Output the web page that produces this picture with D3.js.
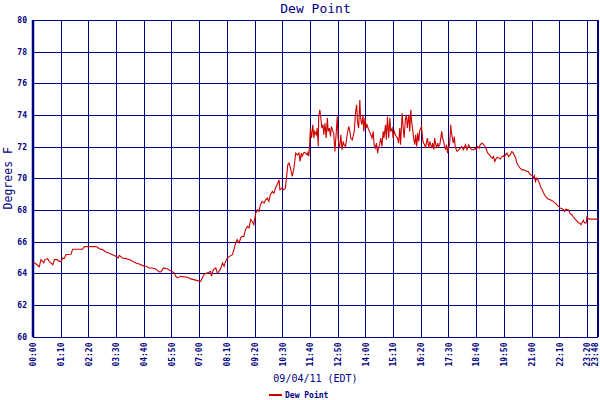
<!DOCTYPE html>
<html>
<head>
<meta charset="utf-8">
<script src="https://cdn.jsdelivr.net/npm/d3@7"></script>
<style>
body { margin: 0; background: #fff; }
text { font-family: "DejaVu Sans Mono", monospace; fill: #000080; }
</style>
</head>
<body>
<svg id="chart" width="600" height="400"></svg>
<script>
// Tick labels along the time axis
const xTickLabels = ["00:00", "01:10", "02:20", "03:30", "04:40", "05:50", "07:00", "08:10",
    "09:20", "10:30", "11:40", "12:50", "14:00", "15:10", "16:20", "17:30", "18:40", "19:50",
    "21:00", "22:10", "23:20", "23:48"];
const yTickValues = [60, 62, 64, 66, 68, 70, 72, 74, 76, 78, 80];

// Readings: minutes after midnight, dew point in degrees F
const minutes = [
    0, 8, 14, 16, 20, 24, 27, 30, 37, 41, 45, 50, 54, 61, 66, 71, 75, 79, 83, 96,
    100, 125, 130, 159, 163, 167, 176, 184, 193, 201, 209, 215, 218, 226, 235, 243, 252, 260, 268, 277,
    285, 294, 302, 310, 319, 323, 330, 340, 348, 357, 361, 365, 373, 390, 399, 416, 424, 432, 434, 441,
    449, 451, 456, 462, 466, 470, 474, 479, 483, 487, 491, 495, 504, 508, 512, 516, 521, 525, 529, 533,
    537, 542, 546, 550, 554, 558, 563, 567, 571, 575, 579, 584, 588, 592, 596, 600, 605, 609, 613, 617,
    622, 624, 630, 634, 638, 641, 644, 647, 651, 655, 659, 664, 668, 672, 675, 678, 680, 685, 689, 693,
    695, 697, 699, 701, 704, 707, 710, 712, 716, 718, 721, 722, 725, 728, 730, 733, 735, 738, 741, 744,
    746, 749, 752, 754, 758, 760, 763, 766, 769, 771, 773, 775, 778, 781, 784, 786, 790, 794, 798, 801,
    803, 807, 809, 812, 815, 818, 820, 823, 826, 828, 831, 834, 836, 839, 842, 844, 847, 850, 854, 857,
    860, 862, 865, 868, 871, 874, 876, 879, 882, 885, 887, 891, 893, 896, 899, 902, 904, 908, 910, 913,
    916, 918, 921, 924, 927, 929, 933, 935, 938, 941, 944, 946, 950, 952, 955, 957, 960, 962, 965, 967,
    970, 972, 975, 977, 980, 982, 985, 987, 990, 992, 995, 997, 1000, 1003, 1005, 1008, 1010, 1013, 1015, 1018,
    1020, 1023, 1025, 1028, 1030, 1033, 1035, 1038, 1040, 1043, 1045, 1048, 1050, 1053, 1056, 1057, 1060, 1062, 1065, 1067,
    1070, 1072, 1076, 1080, 1084, 1088, 1093, 1097, 1101, 1105, 1109, 1114, 1118, 1120, 1124, 1128, 1130, 1135, 1139, 1143,
    1146, 1149, 1154, 1157, 1161, 1164, 1167, 1171, 1174, 1177, 1181, 1185, 1189, 1192, 1194, 1198, 1202, 1206, 1210, 1213,
    1216, 1220, 1223, 1227, 1231, 1236, 1240, 1244, 1248, 1252, 1255, 1258, 1262, 1265, 1267, 1270, 1273, 1276, 1280, 1283,
    1287, 1290, 1294, 1299, 1303, 1307, 1311, 1315, 1320, 1324, 1328, 1332, 1336, 1341, 1343, 1347, 1349, 1353, 1357, 1362,
    1366, 1370, 1374, 1378, 1383, 1385, 1388, 1391, 1394, 1398, 1400, 1402, 1406, 1428
];
const dewPoint = [
    64.69, 64.58, 64.44, 64.40, 64.86, 64.75, 64.65, 64.86, 64.92, 64.75, 64.65, 64.54, 64.86, 64.86, 64.75, 64.75, 64.96, 64.92, 65.17, 65.20,
    65.51, 65.51, 65.68, 65.68, 65.64, 65.55, 65.49, 65.34, 65.26, 65.17, 65.07, 64.96, 65.13, 64.96, 64.92, 64.86, 64.75, 64.65, 64.58, 64.48,
    64.44, 64.33, 64.33, 64.27, 64.08, 64.08, 64.33, 64.27, 64.16, 64.02, 63.80, 63.70, 63.80, 63.74, 63.64, 63.53, 63.49, 63.91, 63.95, 64.02,
    64.12, 63.81, 64.23, 64.33, 64.02, 64.12, 64.27, 64.65, 64.44, 64.75, 64.96, 65.03, 65.17, 65.49, 65.91, 66.12, 65.91, 66.23, 66.33, 66.33,
    66.75, 66.96, 66.86, 67.38, 67.28, 67.07, 67.80, 68.01, 67.91, 68.33, 68.54, 68.43, 68.64, 68.75, 68.54, 68.96, 69.17, 69.06, 69.38, 69.59,
    69.90, 69.27, 69.38, 69.27, 69.38, 70.12, 70.85, 70.96, 70.64, 70.12, 70.54, 71.59, 71.48, 71.59, 71.06, 71.59, 71.38, 71.63, 71.59, 71.48,
    71.63, 71.40, 72.01, 73.17, 72.54, 73.38, 72.54, 72.96, 72.75, 73.17, 72.01, 73.90, 74.32, 73.69, 73.17, 73.38, 72.75, 73.48, 72.54, 73.80,
    72.96, 73.17, 72.64, 73.27, 72.96, 72.85, 71.70, 72.75, 73.90, 72.54, 72.12, 71.91, 72.75, 71.80, 72.33, 72.12, 72.01, 72.75, 73.27, 72.96,
    72.54, 72.43, 72.64, 72.96, 74.11, 74.64, 73.59, 73.17, 74.95, 73.80, 73.38, 74.01, 72.96, 73.80, 73.17, 73.38, 73.17, 72.96, 72.75, 72.54,
    72.96, 72.12, 71.91, 72.22, 71.59, 72.01, 72.12, 72.54, 72.01, 72.96, 72.54, 73.38, 72.43, 73.90, 72.54, 73.80, 72.96, 73.17, 72.54, 72.96,
    72.75, 72.64, 72.54, 72.22, 73.17, 72.12, 74.11, 73.38, 72.54, 73.69, 74.01, 73.17, 74.01, 72.96, 74.32, 73.59, 72.96, 72.54, 72.12, 72.75,
    72.01, 72.85, 72.33, 72.96, 73.17, 73.27, 72.43, 72.22, 72.12, 71.91, 72.33, 72.54, 71.91, 72.33, 72.12, 71.91, 72.22, 71.80, 72.54, 72.12,
    71.91, 72.22, 72.01, 72.12, 72.43, 72.96, 72.54, 72.33, 72.01, 71.80, 72.12, 71.59, 71.91, 72.12, 73.38, 72.96, 72.54, 72.22, 72.64, 72.01,
    71.80, 71.70, 71.80, 71.91, 72.01, 71.80, 72.12, 71.80, 72.12, 71.91, 71.80, 71.80, 71.90, 71.80, 72.01, 71.90, 72.11, 72.22, 72.11, 72.01,
    71.80, 71.60, 71.48, 71.37, 71.27, 71.37, 71.06, 71.27, 71.33, 71.27, 71.21, 71.37, 71.42, 71.33, 71.48, 71.59, 71.37, 71.48, 71.69, 71.63,
    71.48, 71.27, 70.95, 70.79, 70.64, 70.53, 70.53, 70.49, 70.43, 70.43, 70.28, 70.22, 70.16, 70.01, 70.16, 69.80, 70.01, 69.90, 69.69, 69.44,
    69.27, 69.10, 68.89, 68.75, 68.68, 68.64, 68.60, 68.54, 68.43, 68.33, 68.22, 68.12, 68.09, 68.01, 67.90, 68.05, 68.01, 68.01, 67.80, 67.69,
    67.55, 67.42, 67.32, 67.21, 67.13, 67.06, 67.21, 67.34, 67.17, 67.17, 67.55, 67.48, 67.42, 67.42
];

const seriesName = "Dew Point";
const xAxisTitle = "09/04/11 (EDT)";
const yAxisTitle = "Degrees F";

const navy = "#000080";
const lineRed = "#cc0000";

const svg = d3.select("#chart");

const toMinutes = s => {
    const [h, m] = s.split(":").map(Number);
    return h * 60 + m;
};
const tickMinutes = xTickLabels.map(toMinutes);

const x = d3.scaleLinear().domain([0, d3.max(tickMinutes)]).range([33, 598]);
const y = d3.scaleLinear().domain([60, 80]).range([336.5, 20]);

const plotW = x.range()[1] - x.range()[0];
const plotH = y.range()[0] - y.range()[1];

// horizontal grid + y tick labels
const gy = svg.append("g")
    .attr("transform", `translate(${x.range()[0]},0)`)
    .call(d3.axisLeft(y).tickValues(yTickValues).tickSize(-plotW).tickPadding(6).tickFormat(d3.format("d")));
gy.select(".domain").remove();
gy.selectAll("line").attr("stroke", navy).attr("shape-rendering", "crispEdges");
gy.selectAll("text")
    .attr("x", -6)
    .attr("fill", navy)
    .style("font-size", "8px")
    .style("font-weight", "bold");

// vertical grid + rotated time labels
const gx = svg.append("g")
    .attr("transform", `translate(0,${y.range()[0]})`)
    .call(d3.axisBottom(x).tickValues(tickMinutes).tickSize(-plotH).tickFormat((d, i) => xTickLabels[i]));
gx.select(".domain").remove();
gx.selectAll("line").attr("stroke", navy).attr("shape-rendering", "crispEdges");
gx.selectAll("text")
    .attr("transform", "rotate(-90)")
    .attr("x", -6)
    .attr("y", (d, i) => i === xTickLabels.length - 1 ? -3 : 0)
    .attr("dy", "0.35em")
    .attr("text-anchor", "end")
    .attr("fill", navy)
    .style("font-size", "8px")
    .style("font-weight", "bold");

// heavier left and right frame
svg.append("line")
    .attr("x1", x.range()[0]).attr("x2", x.range()[0])
    .attr("y1", y.range()[1]).attr("y2", y.range()[0] + 0.5)
    .attr("stroke", navy).attr("stroke-width", 2.5);
svg.append("line")
    .attr("x1", x.range()[1]).attr("x2", x.range()[1])
    .attr("y1", y.range()[1]).attr("y2", y.range()[0] + 0.5)
    .attr("stroke", navy).attr("stroke-width", 2);

// dew point line
const line = d3.line()
    .x((d, i) => x(minutes[i]))
    .y(d => y(d));

svg.append("path")
    .datum(dewPoint)
    .attr("d", line)
    .attr("fill", "none")
    .attr("stroke", lineRed)
    .attr("stroke-width", 1.1);

// titles
svg.append("text")
    .attr("x", (x.range()[0] + x.range()[1]) / 2)
    .attr("y", 13)
    .attr("text-anchor", "middle")
    .style("font-size", "13px")
    .text(seriesName);

svg.append("text")
    .attr("x", (x.range()[0] + x.range()[1]) / 2)
    .attr("y", 382)
    .attr("text-anchor", "middle")
    .style("font-size", "10px")
    .text(xAxisTitle);

svg.append("text")
    .attr("transform", `translate(12,${(y.range()[0] + y.range()[1]) / 2}) rotate(-90)`)
    .attr("text-anchor", "middle")
    .style("font-size", "11.5px")
    .text(yAxisTitle);

// legend
const legend = svg.append("g").attr("transform", "translate(269,395)");
legend.append("line")
    .attr("x1", 0).attr("x2", 13)
    .attr("stroke", lineRed).attr("stroke-width", 2);
legend.append("text")
    .attr("x", 16)
    .attr("dy", "0.35em")
    .style("font-size", "8px")
    .style("font-weight", "bold")
    .text(seriesName);
</script>
</body>
</html>
